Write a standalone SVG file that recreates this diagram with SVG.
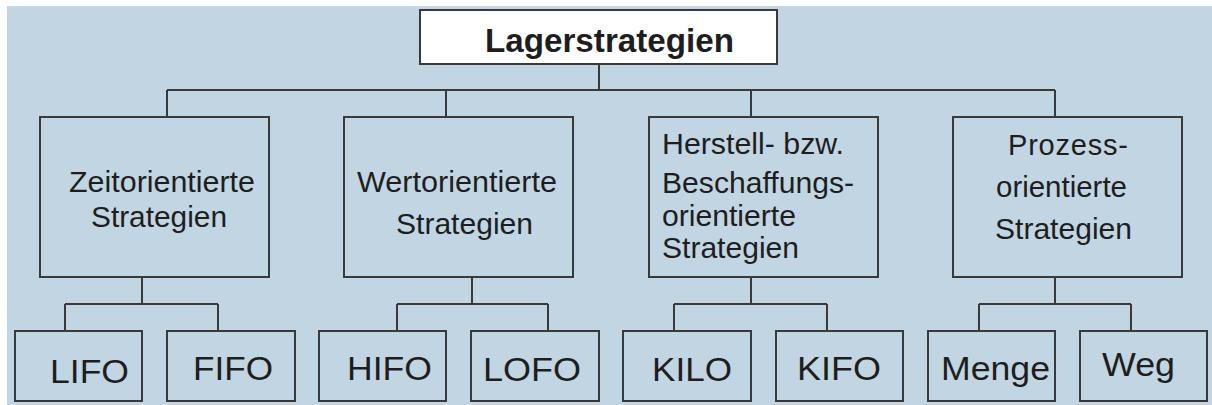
<svg xmlns="http://www.w3.org/2000/svg" width="1212" height="405" viewBox="0 0 1212 405">
<style>
.bg{fill:#c1d6e2}
.box{fill:#c1d6e2;stroke:#3a3a3a;stroke-width:2}
.top{fill:#ffffff;stroke:#3a3a3a;stroke-width:2}
.conn{fill:none;stroke:#3a3a3a;stroke-width:2}
text{font-family:"Liberation Sans",Arial,Helvetica,sans-serif;fill:#1e1e1e}
.t1{font-size:33px;font-weight:bold}
.t2{font-size:29px}
.t3{font-size:34px}
</style>
<rect class="bg" x="7" y="6" width="1205" height="399"/>
<g id="connectors">
<path class="conn" d="M599 64V90M167 90H1055M167 90V117M446 90V117M751 90V117M1055 90V117"/>
<path class="conn" d="M142 277V304M65 304H218M65 304V331M218 304V331"/>
<path class="conn" d="M472 277V304M397 304H548M397 304V331M548 304V331"/>
<path class="conn" d="M751 277V304M674 304H827M674 304V331M827 304V331"/>
<path class="conn" d="M1055 277V304M979 304H1131M979 304V331M1131 304V331"/>
</g>
<g id="lagerstrategien">
<rect class="top" x="420" y="10" width="357" height="54"/>
<text class="t1" x="485" y="52" textLength="249" lengthAdjust="spacingAndGlyphs">Lagerstrategien</text>
</g>
<g id="zeit">
<rect class="box" x="40" y="117" width="229" height="160"/>
<text class="t2" x="69" y="192" textLength="186" lengthAdjust="spacingAndGlyphs">Zeitorientierte</text>
<text class="t2" x="91" y="227" textLength="136" lengthAdjust="spacingAndGlyphs">Strategien</text>
</g>
<g id="wert">
<rect class="box" x="344" y="117" width="229" height="160"/>
<text class="t2" x="357" y="192" textLength="200" lengthAdjust="spacingAndGlyphs">Wertorientierte</text>
<text class="t2" x="396" y="234" textLength="137" lengthAdjust="spacingAndGlyphs">Strategien</text>
</g>
<g id="herstell">
<rect class="box" x="649" y="117" width="229" height="160"/>
<text class="t2" x="662" y="154" textLength="182" lengthAdjust="spacingAndGlyphs">Herstell- bzw.</text>
<text class="t2" x="662" y="193" textLength="192" lengthAdjust="spacingAndGlyphs">Beschaffungs-</text>
<text class="t2" x="662" y="226" textLength="134" lengthAdjust="spacingAndGlyphs">orientierte</text>
<text class="t2" x="662" y="258" textLength="137" lengthAdjust="spacingAndGlyphs">Strategien</text>
</g>
<g id="prozess">
<rect class="box" x="953" y="117" width="229" height="160"/>
<text class="t2" x="1008" y="155" textLength="120" lengthAdjust="spacing">Prozess-</text>
<text class="t2" x="996" y="197" textLength="131" lengthAdjust="spacingAndGlyphs">orientierte</text>
<text class="t2" x="995" y="239" textLength="137" lengthAdjust="spacingAndGlyphs">Strategien</text>
</g>
<g id="lifo">
<rect class="box" x="15" y="331" width="127" height="70"/>
<text class="t3" x="50" y="383" textLength="79" lengthAdjust="spacingAndGlyphs">LIFO</text>
</g>
<g id="fifo">
<rect class="box" x="167" y="331" width="128" height="70"/>
<text class="t3" x="193" y="380" textLength="80" lengthAdjust="spacingAndGlyphs">FIFO</text>
</g>
<g id="hifo">
<rect class="box" x="319" y="331" width="127" height="70"/>
<text class="t3" x="347" y="380" textLength="85" lengthAdjust="spacingAndGlyphs">HIFO</text>
</g>
<g id="lofo">
<rect class="box" x="471" y="331" width="128" height="70"/>
<text class="t3" x="483" y="381" textLength="98" lengthAdjust="spacingAndGlyphs">LOFO</text>
</g>
<g id="kilo">
<rect class="box" x="623" y="331" width="128" height="70"/>
<text class="t3" x="652" y="381" textLength="80" lengthAdjust="spacingAndGlyphs">KILO</text>
</g>
<g id="kifo">
<rect class="box" x="776" y="331" width="127" height="70"/>
<text class="t3" x="797" y="380" textLength="84" lengthAdjust="spacingAndGlyphs">KIFO</text>
</g>
<g id="menge">
<rect class="box" x="928" y="331" width="127" height="70"/>
<text class="t3" x="941" y="380" textLength="109" lengthAdjust="spacingAndGlyphs">Menge</text>
</g>
<g id="weg">
<rect class="box" x="1080" y="331" width="127" height="70"/>
<text class="t3" x="1102" y="376" textLength="73" lengthAdjust="spacingAndGlyphs">Weg</text>
</g>
</svg>
